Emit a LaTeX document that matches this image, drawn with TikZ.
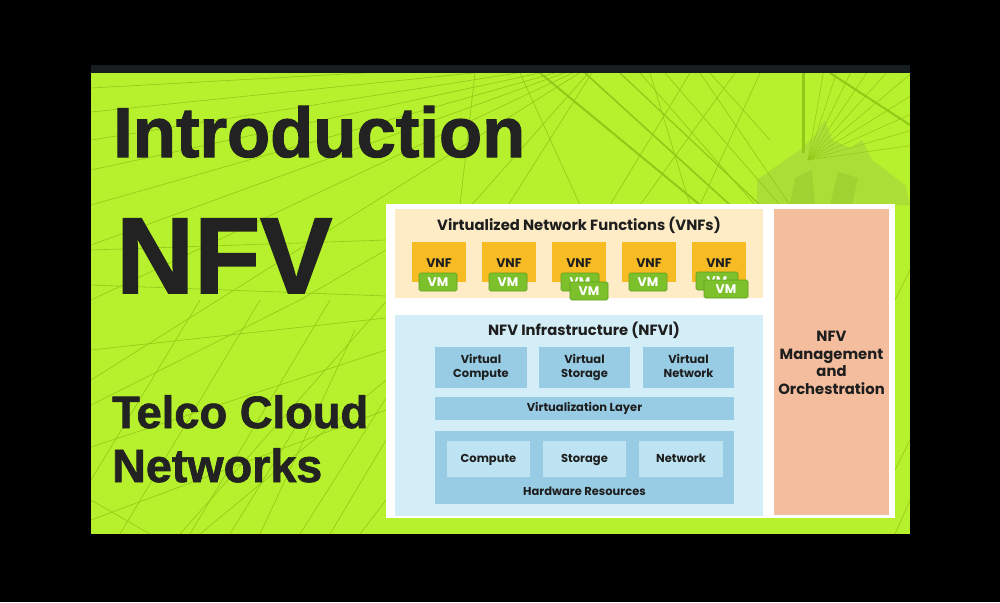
\documentclass[tikz,border=0pt]{standalone}
\usepackage{fontspec}
\setmainfont{Liberation Sans}
\newfontfamily\heavy[FakeBold=1.5]{Liberation Sans Bold}
\newfontfamily\gf{Poppins}
\definecolor{lime}{RGB}{183,240,44}
\definecolor{limeline}{RGB}{146,200,24}
\definecolor{limedark}{RGB}{172,222,56}
\definecolor{limedeep}{RGB}{160,210,50}
\definecolor{ink}{RGB}{34,34,34}
\definecolor{topstrip}{RGB}{22,30,32}
\definecolor{cream}{RGB}{253,236,198}
\definecolor{vnforange}{RGB}{247,187,36}
\definecolor{vmgreen}{RGB}{124,192,44}
\definecolor{vmedge}{RGB}{96,160,30}
\definecolor{nfvilight}{RGB}{212,238,248}
\definecolor{nfvimid}{RGB}{151,204,228}
\definecolor{nfviinner}{RGB}{190,228,243}
\definecolor{salmon}{RGB}{243,189,158}
\definecolor{txt}{RGB}{30,30,30}
\tikzset{
  lbl/.style={font=\gf\bfseries\fontsize{11.5}{13.5}\selectfont, text=txt, align=center, inner sep=0pt, text height=8.5pt, text depth=2.5pt},
  ttl/.style={font=\gf\bfseries\fontsize{14.8}{16}\selectfont, text=txt, align=center, inner sep=0pt, text height=10.5pt, text depth=3pt},
  vnfbox/.style={fill=vnforange, inner sep=0pt, minimum width=54pt, minimum height=40pt},
  vnflbl/.style={font=\gf\bfseries\fontsize{12.5}{13}\selectfont, text=txt, inner sep=0pt, text height=9pt, text depth=0pt},
  vmbox/.style={fill=vmgreen, draw=vmedge, line width=0.6pt, rounded corners=1.5pt, inner sep=0pt, minimum width=38pt, minimum height=18pt, font=\gf\bfseries\fontsize{12.5}{13}\selectfont, text=white, text height=9pt, text depth=0pt},
  bigtxt/.style={anchor=base west, inner sep=0pt, text=ink, font=\heavy}
}
\begin{document}
\begin{tikzpicture}[x=1pt,y=-1pt]
\useasboundingbox (0,0) rectangle (1000,602);
\fill[black] (0,0) rectangle (1000,602);
\fill[topstrip] (91,65) rectangle (910,73);
% panel
\fill[lime] (91,73) rectangle (910,534);
\begin{scope}
\clip (91,73) rectangle (910,534);
% tower
\fill[limedark] (757,205) -- (757,180) -- (785,160) -- (800,150) -- (815,135) -- (825,120) -- (832,140) -- (850,148) -- (862,140) -- (872,160) -- (905,185) -- (910,205) -- cycle;
\fill[limedeep] (790,205) -- (795,178) -- (812,170) -- (815,205) -- cycle;
\fill[limedeep] (830,205) -- (838,172) -- (858,178) -- (852,205) -- cycle;
\draw[limeline, line width=3pt] (803,73) -- (803,153);
\foreach \a in {-80,-72,...,-8}
  \draw[limeline, line width=0.5pt] (808,160) -- ++(\a:160);
\draw[limeline, line width=2pt] (830,73) -- (910,125);
% converging lines toward upper middle
\foreach \ex/\ey in {91/88, 91/112, 91/140, 91/170, 91/205, 91/245, 91/300, 91/380, 180/534, 300/534}
  \draw[limeline, line width=0.6pt] (600,60) -- (\ex,\ey);
\draw[limeline, line width=2pt] (540,73) -- (700,205);
\draw[limeline, line width=1.6pt] (585,73) -- (730,205);
\draw[limeline, line width=1.2pt] (620,73) -- (760,205);
\foreach \sx/\sy/\ex/\ey in {475/73/460/205, 520/73/580/205, 650/73/690/205, 690/73/610/205, 735/73/640/205, 760/73/700/205, 640/73/755/205, 665/73/780/205, 700/73/790/205, 710/73/770/140}
  \draw[limeline, line width=0.6pt] (\sx,\sy) -- (\ex,\ey);
% lines in the lower left
\foreach \sx/\sy/\ex/\ey in {91/285/386/296, 91/350/386/318, 91/447/386/350, 91/520/386/410, 200/534/386/380, 91/405/300/300, 120/534/260/300, 190/534/330/300, 260/534/355/330, 330/534/386/440, 91/480/200/300, 150/534/91/500, 300/300/386/250, 91/250/386/240, 360/534/386/500, 230/534/300/420}
  \draw[limeline, line width=0.6pt] (\sx,\sy) -- (\ex,\ey);
\foreach \sx/\sy/\ex/\ey in {895/534/910/500, 895/470/910/440, 895/300/910/270}
  \draw[limeline, line width=0.6pt] (\sx,\sy) -- (\ex,\ey);
\end{scope}
% big titles
\node[bigtxt] (intro) at (113,157) {\resizebox{412pt}{!}{Introduction}};
\node[bigtxt] (nfv) at (116,293) {\resizebox{216pt}{!}{NFV}};
\node[bigtxt] (telco) at (112,428) {\resizebox{256pt}{!}{Telco Cloud}};
\node[bigtxt] (netw) at (112,482) {\resizebox{210pt}{!}{Networks}};
% diagram
\fill[white] (386,204) rectangle (895,518);
\fill[cream] (395,209) rectangle (763,298);
\node[ttl] (vnfttl) at (579,227) {Virtualized Network Functions (VNFs)};
\foreach \i/\x in {1/439, 2/509, 3/579, 4/649, 5/719} {
  \node[vnfbox] (vnf\i) at (\x,262) {};
  \node[vnflbl] (vnft\i) at (\x,263) {VNF};
}
\node[vmbox] (vm1) at (438,282) {VM};
\node[vmbox] (vm2) at (508,282) {VM};
\node[vmbox] (vm3a) at (580,282) {VM};
\node[vmbox] (vm3b) at (589,291) {VM};
\node[vmbox] (vm4) at (648,282) {VM};
\node[vmbox, minimum width=42pt] (vm5a) at (717,281) {VM};
\node[vmbox, minimum width=44pt] (vm5b) at (726,289) {VM};
% NFVI
\fill[nfvilight] (395,315) rectangle (763,516);
\node[ttl] (nfvittl) at (584,332) {NFV Infrastructure (NFVI)};
\fill[nfvimid] (435,347) rectangle (527,388);
\fill[nfvimid] (539,347) rectangle (630,388);
\fill[nfvimid] (643,347) rectangle (734,388);
\node[lbl] (vc1) at (481,360) {Virtual};
\node[lbl] (vc2) at (481,374) {Compute};
\node[lbl] (vs1) at (584.5,360) {Virtual};
\node[lbl] (vs2) at (584.5,374) {Storage};
\node[lbl] (vn1) at (688.5,360) {Virtual};
\node[lbl] (vn2) at (688.5,374) {Network};
\fill[nfvimid] (435,397) rectangle (734,420);
\node[lbl] (vl) at (584.5,408.5) {Virtualization Layer};
\fill[nfvimid] (435,431) rectangle (734,504);
\fill[nfviinner] (447,441) rectangle (530,477);
\fill[nfviinner] (543,441) rectangle (626,477);
\fill[nfviinner] (639,441) rectangle (723,477);
\node[lbl] (hc) at (488.5,459) {Compute};
\node[lbl] (hs) at (584.5,459) {Storage};
\node[lbl] (hn) at (681,459) {Network};
\node[lbl] (hr) at (584.5,492) {Hardware Resources};
% MANO
\fill[salmon] (774,209) rectangle (889,515);
\node[ttl] (m1) at (831.5,338) {NFV};
\node[ttl] (m2) at (831.5,355.5) {Management};
\node[ttl] (m3) at (831.5,373) {and};
\node[ttl] (m4) at (831.5,390.5) {Orchestration};
\end{tikzpicture}
\end{document}
